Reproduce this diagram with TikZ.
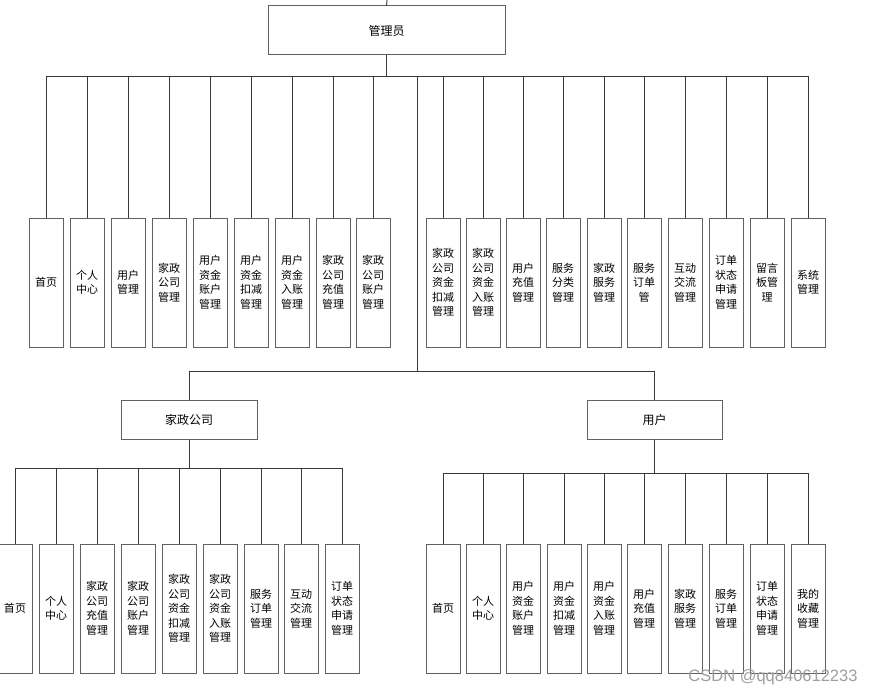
\documentclass[tikz,border=0pt]{standalone}
\usepackage{fontspec}
\setmainfont{Noto Sans CJK SC}
\newfontfamily\wmfont{Liberation Sans}
\begin{document}
\begin{tikzpicture}[x=1pt,y=-1pt,
  conn/.style={draw=black!78, line width=0.9pt},
  boxbase/.style={draw=black!62, line width=1pt, inner sep=0pt, align=center, font=\fontsize{11}{14.5}\selectfont},
  leaf/.style={boxbase, minimum width=34pt, minimum height=129pt, text width=30pt},
  head/.style={boxbase, font=\fontsize{12}{14.5}\selectfont}
]
\useasboundingbox (0,0) rectangle (874,695);
\fill[white] (0,0) rectangle (874,695);

% coordinates for buses
\coordinate (top) at (387,0);
\coordinate (tbus) at (0,76);
\coordinate (trunk) at (417,76);
\coordinate (mid) at (417,371);
\coordinate (lbus) at (0,468);
\coordinate (rbus) at (0,473);

% head nodes
\node[head, minimum width=237pt, minimum height=49pt] (admin) at (386.5,30.5) {管理员};
\node[head, minimum width=136pt, minimum height=39pt] (jz) at (189,419.5) {家政公司};
\node[head, minimum width=135pt, minimum height=39pt] (yh) at (654.5,419.5) {用户};

% top row
\foreach \x/\t [count=\i] in {46/{首页}, 87/{个人\\中心}, 128/{用户\\管理}, 169/{家政\\公司\\管理},
  210/{用户\\资金\\账户\\管理}, 251/{用户\\资金\\扣减\\管理}, 292/{用户\\资金\\入账\\管理},
  333/{家政\\公司\\充值\\管理}, 373/{家政\\公司\\账户\\管理}, 443/{家政\\公司\\资金\\扣减\\管理},
  483/{家政\\公司\\资金\\入账\\管理}, 523/{用户\\充值\\管理}, 563/{服务\\分类\\管理},
  604/{家政\\服务\\管理}, 644/{服务\\订单\\管}, 685/{互动\\交流\\管理},
  726/{订单\\状态\\申请\\管理}, 767/{留言\\板管\\理}, 808/{系统\\管理}}
  \node[leaf] (t\i) at (\x,282.5) {\t};

% bottom left row
\foreach \x/\t [count=\i] in {15/{首页}, 56/{个人\\中心}, 97/{家政\\公司\\充值\\管理},
  138/{家政\\公司\\账户\\管理}, 179/{家政\\公司\\资金\\扣减\\管理}, 220/{家政\\公司\\资金\\入账\\管理},
  261/{服务\\订单\\管理}, 301/{互动\\交流\\管理}, 342/{订单\\状态\\申请\\管理}}
  \node[leaf] (l\i) at (\x,608.5) {\t};

% bottom right row
\foreach \x/\t [count=\i] in {443/{首页}, 483/{个人\\中心}, 523/{用户\\资金\\账户\\管理},
  564/{用户\\资金\\扣减\\管理}, 604/{用户\\资金\\入账\\管理}, 644/{用户\\充值\\管理},
  685/{家政\\服务\\管理}, 726/{服务\\订单\\管理}, 767/{订单\\状态\\申请\\管理}, 808/{我的\\收藏\\管理}}
  \node[leaf] (r\i) at (\x,608.5) {\t};

% connectors: top
\draw[conn] (top) -- (admin.north);
\draw[conn] (admin.south) -- (admin.south |- tbus);
\draw[conn] (t1.north |- tbus) -- (t19.north |- tbus);
\foreach \i in {1,...,19} \draw[conn] (t\i.north) -- (t\i.north |- tbus);

% trunk to second level
\draw[conn] (trunk) -- (mid);
\draw[conn] (jz.north |- mid) -- (yh.north |- mid);
\draw[conn] (jz.north |- mid) -- (jz.north);
\draw[conn] (yh.north |- mid) -- (yh.north);

% bottom left
\draw[conn] (jz.south) -- (jz.south |- lbus);
\draw[conn] (l1.north |- lbus) -- (l9.north |- lbus);
\foreach \i in {1,...,9} \draw[conn] (l\i.north) -- (l\i.north |- lbus);

% bottom right
\draw[conn] (yh.south) -- (yh.south |- rbus);
\draw[conn] (r1.north |- rbus) -- (r10.north |- rbus);
\foreach \i in {1,...,10} \draw[conn] (r\i.north) -- (r\i.north |- rbus);

% watermark
\node[font=\wmfont\fontsize{16.5}{16.5}\selectfont, text=black!38, inner sep=0pt] (wm) at (773,677) {CSDN @qq840612233};
\end{tikzpicture}
\end{document}
